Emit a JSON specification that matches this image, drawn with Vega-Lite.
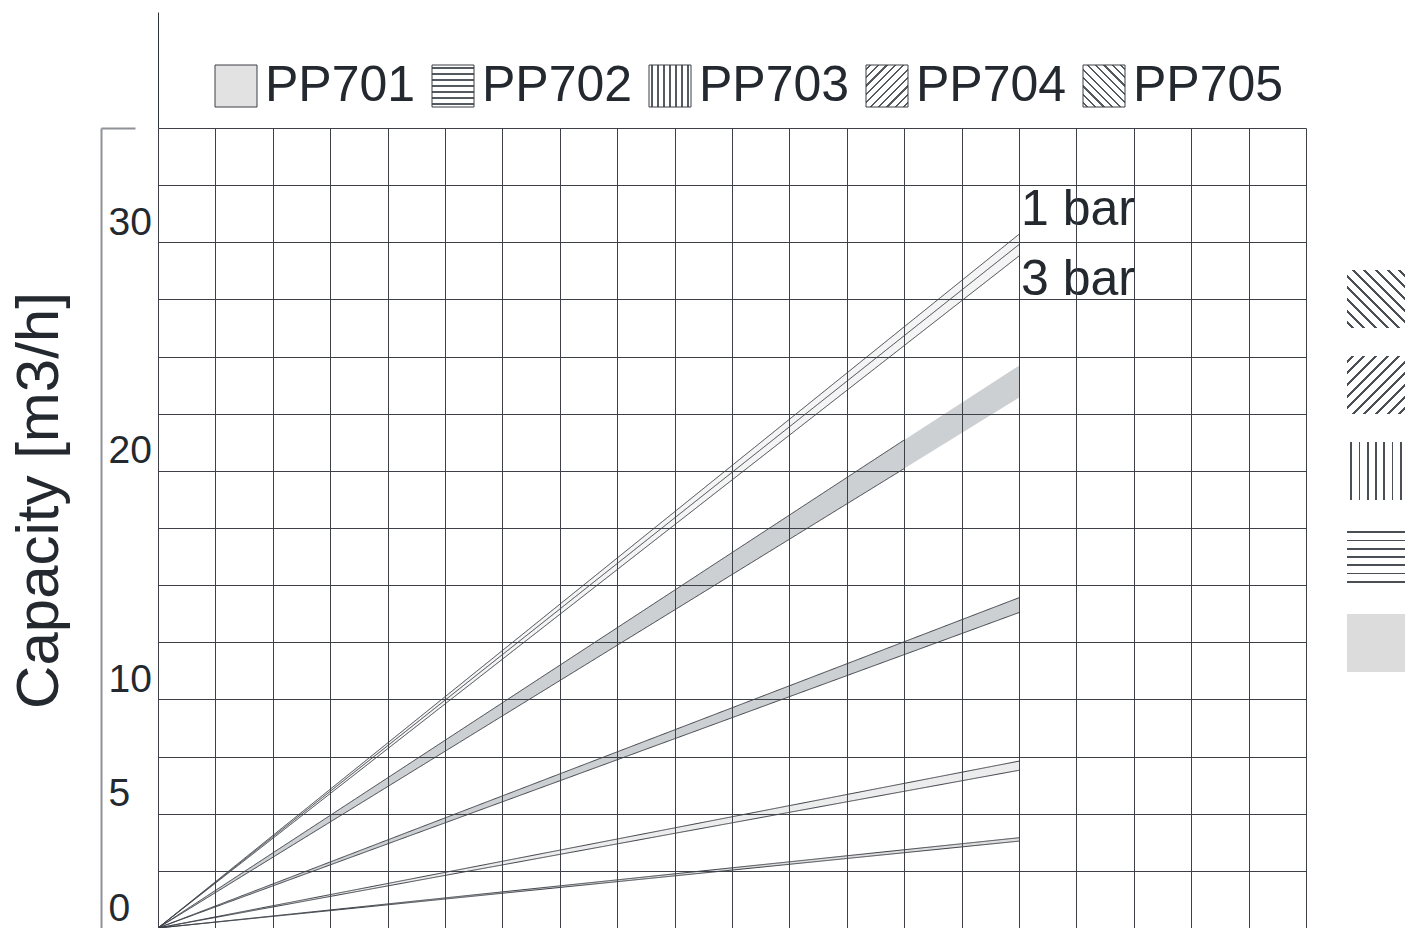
{
  "$schema": "https://vega.github.io/schema/vega-lite/v6.json",
  "width": 1148,
  "height": 800,
  "autosize": "none",
  "padding": {"left": 158, "top": 128, "right": 107, "bottom": 0},
  "background": "#ffffff",
  "config": {
    "font": "Liberation Sans",
    "view": {"stroke": null},
    "legend": {"padding": 0, "titlePadding": 0}
  },
  "datasets": {
    "bands": [
      {"series": "PP701", "x": 0, "lo": 0, "hi": 0, "mid": null},
      {"series": "PP701", "x": 15, "lo": 3.8, "hi": 3.95, "mid": null},
      {"series": "PP702", "x": 0, "lo": 0, "hi": 0, "mid": null},
      {"series": "PP702", "x": 15, "lo": 6.9, "hi": 7.3, "mid": null},
      {"series": "PP703", "x": 0, "lo": 0, "hi": 0, "mid": null},
      {"series": "PP703", "x": 15, "lo": 13.8, "hi": 14.45, "mid": null},
      {"series": "PP704", "x": 0, "lo": 0, "hi": 0, "mid": 0},
      {"series": "PP704", "x": 15, "lo": 29.4, "hi": 30.35, "mid": 29.9},
      {"series": "PP705", "x": 0, "lo": 0, "hi": 0, "mid": null},
      {"series": "PP705", "x": 13, "lo": 20.1, "hi": 21.35, "mid": null},
      {"series": "PP705", "x": 15, "lo": 23.2, "hi": 24.6, "mid": null}
    ],
    "notes": [
      {"label": "1 bar", "x": 15, "y": 30.75},
      {"label": "3 bar", "x": 15, "y": 27.7}
    ]
  },
  "layer": [
    {
      "data": {"name": "bands"},
      "mark": {"type": "area", "opacity": 1, "strokeWidth": 0},
      "encoding": {
        "x": {
          "field": "x", "type": "quantitative",
          "scale": {"domain": [0, 20], "nice": false, "zero": false},
          "axis": {
            "orient": "top", "values": [0,1,2,3,4,5,6,7,8,9,10,11,12,13,14,15,16,17,18,19,20],
            "grid": true, "gridColor": "#3d4147", "gridWidth": 1, "gridOpacity": 1,
            "domain": false, "labels": false, "ticks": true, "tickSize": 116,
            "tickColor": "#2e3239", "tickWidth": 1,
            "tickOpacity": {"condition": {"test": "datum.value === 0", "value": 1}, "value": 0},
            "title": null, "zindex": 1
          }
        },
        "y": {
          "field": "lo", "type": "quantitative",
          "scale": {"domain": [0, 35], "nice": false},
          "axis": {
            "orient": "left", "values": [0,2.5,5,7.5,10,12.5,15,17.5,20,22.5,25,27.5,30,32.5,35],
            "grid": true, "gridColor": "#3d4147", "gridWidth": 1, "gridOpacity": 1,
            "domain": false, "ticks": false,
            "labelExpr": "indexof([0,5,10,20,30], datum.value) >= 0 ? datum.label : ''",
            "labelAlign": "left", "labelBaseline": "alphabetic", "labelOffset": -8,
            "labelPadding": 50, "labelFontSize": 39, "labelColor": "#23292f",
            "labelFont": "Liberation Sans", "labelOverlap": false,
            "title": null, "zindex": 1
          }
        },
        "y2": {"field": "hi"},
        "fill": {
          "field": "series", "type": "nominal",
          "scale": {"domain": ["PP702","PP701","PP703","PP704","PP705"], "range": ["#ececec","#dddddd","#cdd0d3","#f4f4f4","#cdd0d3"]},
          "legend": null
        }
      }
    },
    {
      "data": {"name": "bands"},
      "transform": [
        {"filter": "datum.series !== 'PP705' || datum.x <= 13"},
        {"fold": ["lo", "hi", "mid"], "as": ["edge", "v"]},
        {"filter": "isValid(datum.v)"}
      ],
      "mark": {"type": "line", "strokeWidth": 1},
      "encoding": {
        "x": {"field": "x", "type": "quantitative"},
        "y": {
          "field": "v", "type": "quantitative",
          "axis": {
            "orient": "left", "offset": 57, "values": [35], "grid": false, "labels": false,
            "domain": true, "domainColor": "#8e9297", "domainWidth": 2,
            "ticks": true, "tickSize": -34, "tickColor": "#8e9297", "tickWidth": 2,
            "title": "Capacity [m3/h]", "titleFontSize": 60, "titleFontWeight": "normal",
            "titleColor": "#23292f", "titleFont": "Liberation Sans", "titlePadding": 30, "titleY": 372
          }
        },
        "strokeDash": {
          "field": "series", "type": "nominal",
          "scale": {"domain": ["PP705","PP704","PP703","PP702","PP701"], "range": [[1,0],[1,0],[1,0],[1,0],[1,0]]},
          "legend": {
            "orient": "none", "legendX": 1189, "legendY": 142, "direction": "vertical",
            "title": null, "symbolType": "square", "symbolSize": 3364, "symbolStrokeWidth": 0,
            "labelExpr": "''", "labelFontSize": 1, "labelOffset": 0, "rowPadding": 28,
            "encode": {"symbols": {"update": {"stroke": {"value": "transparent"}, "fillOpacity": {"value": 1}, "opacity": {"value": 1}, "fill": [
                {"test": "datum.value === 'PP702'", "value": {"gradient": "linear", "x1": 0, "y1": 0, "x2": 0, "y2": 1, "stops": [
                  {"offset":0,"color":"#ffffff"},
                  {"offset":0.056,"color":"#ffffff"},{"offset":0.056,"color":"#4a4f56"},{"offset":0.086,"color":"#4a4f56"},{"offset":0.086,"color":"#ffffff"},
                  {"offset":0.199,"color":"#ffffff"},{"offset":0.199,"color":"#4a4f56"},{"offset":0.229,"color":"#4a4f56"},{"offset":0.229,"color":"#ffffff"},
                  {"offset":0.342,"color":"#ffffff"},{"offset":0.342,"color":"#4a4f56"},{"offset":0.372,"color":"#4a4f56"},{"offset":0.372,"color":"#ffffff"},
                  {"offset":0.485,"color":"#ffffff"},{"offset":0.485,"color":"#4a4f56"},{"offset":0.515,"color":"#4a4f56"},{"offset":0.515,"color":"#ffffff"},
                  {"offset":0.628,"color":"#ffffff"},{"offset":0.628,"color":"#4a4f56"},{"offset":0.658,"color":"#4a4f56"},{"offset":0.658,"color":"#ffffff"},
                  {"offset":0.771,"color":"#ffffff"},{"offset":0.771,"color":"#4a4f56"},{"offset":0.801,"color":"#4a4f56"},{"offset":0.801,"color":"#ffffff"},
                  {"offset":0.914,"color":"#ffffff"},{"offset":0.914,"color":"#4a4f56"},{"offset":0.944,"color":"#4a4f56"},{"offset":0.944,"color":"#ffffff"},
                  {"offset":1,"color":"#ffffff"}]}},
                {"test": "datum.value === 'PP703'", "value": {"gradient": "linear", "x1": 0, "y1": 0, "x2": 1, "y2": 0, "stops": [
                  {"offset":0,"color":"#ffffff"},
                  {"offset":0.056,"color":"#ffffff"},{"offset":0.056,"color":"#4a4f56"},{"offset":0.086,"color":"#4a4f56"},{"offset":0.086,"color":"#ffffff"},
                  {"offset":0.199,"color":"#ffffff"},{"offset":0.199,"color":"#4a4f56"},{"offset":0.229,"color":"#4a4f56"},{"offset":0.229,"color":"#ffffff"},
                  {"offset":0.342,"color":"#ffffff"},{"offset":0.342,"color":"#4a4f56"},{"offset":0.372,"color":"#4a4f56"},{"offset":0.372,"color":"#ffffff"},
                  {"offset":0.485,"color":"#ffffff"},{"offset":0.485,"color":"#4a4f56"},{"offset":0.515,"color":"#4a4f56"},{"offset":0.515,"color":"#ffffff"},
                  {"offset":0.628,"color":"#ffffff"},{"offset":0.628,"color":"#4a4f56"},{"offset":0.658,"color":"#4a4f56"},{"offset":0.658,"color":"#ffffff"},
                  {"offset":0.771,"color":"#ffffff"},{"offset":0.771,"color":"#4a4f56"},{"offset":0.801,"color":"#4a4f56"},{"offset":0.801,"color":"#ffffff"},
                  {"offset":0.914,"color":"#ffffff"},{"offset":0.914,"color":"#4a4f56"},{"offset":0.944,"color":"#4a4f56"},{"offset":0.944,"color":"#ffffff"},
                  {"offset":1,"color":"#ffffff"}]}},
                {"test": "datum.value === 'PP704'", "value": {"gradient": "linear", "x1": 0, "y1": 0, "x2": 1, "y2": 1, "stops": [
                  {"offset":0,"color":"#ffffff"},
                  {"offset":0.0375,"color":"#ffffff"},{"offset":0.0375,"color":"#4a4f56"},{"offset":0.0625,"color":"#4a4f56"},{"offset":0.0625,"color":"#ffffff"},
                  {"offset":0.1375,"color":"#ffffff"},{"offset":0.1375,"color":"#4a4f56"},{"offset":0.1625,"color":"#4a4f56"},{"offset":0.1625,"color":"#ffffff"},
                  {"offset":0.2375,"color":"#ffffff"},{"offset":0.2375,"color":"#4a4f56"},{"offset":0.2625,"color":"#4a4f56"},{"offset":0.2625,"color":"#ffffff"},
                  {"offset":0.3375,"color":"#ffffff"},{"offset":0.3375,"color":"#4a4f56"},{"offset":0.3625,"color":"#4a4f56"},{"offset":0.3625,"color":"#ffffff"},
                  {"offset":0.4375,"color":"#ffffff"},{"offset":0.4375,"color":"#4a4f56"},{"offset":0.4625,"color":"#4a4f56"},{"offset":0.4625,"color":"#ffffff"},
                  {"offset":0.5375,"color":"#ffffff"},{"offset":0.5375,"color":"#4a4f56"},{"offset":0.5625,"color":"#4a4f56"},{"offset":0.5625,"color":"#ffffff"},
                  {"offset":0.6375,"color":"#ffffff"},{"offset":0.6375,"color":"#4a4f56"},{"offset":0.6625,"color":"#4a4f56"},{"offset":0.6625,"color":"#ffffff"},
                  {"offset":0.7375,"color":"#ffffff"},{"offset":0.7375,"color":"#4a4f56"},{"offset":0.7625,"color":"#4a4f56"},{"offset":0.7625,"color":"#ffffff"},
                  {"offset":0.8375,"color":"#ffffff"},{"offset":0.8375,"color":"#4a4f56"},{"offset":0.8625,"color":"#4a4f56"},{"offset":0.8625,"color":"#ffffff"},
                  {"offset":0.9375,"color":"#ffffff"},{"offset":0.9375,"color":"#4a4f56"},{"offset":0.9625,"color":"#4a4f56"},{"offset":0.9625,"color":"#ffffff"},
                  {"offset":1,"color":"#ffffff"}]}},
                {"test": "datum.value === 'PP705'", "value": {"gradient": "linear", "x1": 0, "y1": 1, "x2": 1, "y2": 0, "stops": [
                  {"offset":0,"color":"#ffffff"},
                  {"offset":0.0375,"color":"#ffffff"},{"offset":0.0375,"color":"#4a4f56"},{"offset":0.0625,"color":"#4a4f56"},{"offset":0.0625,"color":"#ffffff"},
                  {"offset":0.1375,"color":"#ffffff"},{"offset":0.1375,"color":"#4a4f56"},{"offset":0.1625,"color":"#4a4f56"},{"offset":0.1625,"color":"#ffffff"},
                  {"offset":0.2375,"color":"#ffffff"},{"offset":0.2375,"color":"#4a4f56"},{"offset":0.2625,"color":"#4a4f56"},{"offset":0.2625,"color":"#ffffff"},
                  {"offset":0.3375,"color":"#ffffff"},{"offset":0.3375,"color":"#4a4f56"},{"offset":0.3625,"color":"#4a4f56"},{"offset":0.3625,"color":"#ffffff"},
                  {"offset":0.4375,"color":"#ffffff"},{"offset":0.4375,"color":"#4a4f56"},{"offset":0.4625,"color":"#4a4f56"},{"offset":0.4625,"color":"#ffffff"},
                  {"offset":0.5375,"color":"#ffffff"},{"offset":0.5375,"color":"#4a4f56"},{"offset":0.5625,"color":"#4a4f56"},{"offset":0.5625,"color":"#ffffff"},
                  {"offset":0.6375,"color":"#ffffff"},{"offset":0.6375,"color":"#4a4f56"},{"offset":0.6625,"color":"#4a4f56"},{"offset":0.6625,"color":"#ffffff"},
                  {"offset":0.7375,"color":"#ffffff"},{"offset":0.7375,"color":"#4a4f56"},{"offset":0.7625,"color":"#4a4f56"},{"offset":0.7625,"color":"#ffffff"},
                  {"offset":0.8375,"color":"#ffffff"},{"offset":0.8375,"color":"#4a4f56"},{"offset":0.8625,"color":"#4a4f56"},{"offset":0.8625,"color":"#ffffff"},
                  {"offset":0.9375,"color":"#ffffff"},{"offset":0.9375,"color":"#4a4f56"},{"offset":0.9625,"color":"#4a4f56"},{"offset":0.9625,"color":"#ffffff"},
                  {"offset":1,"color":"#ffffff"}]}},
                {"value": "#dcdcdc"}
            ]}}}
          }
        },
        "stroke": {
          "field": "series", "type": "nominal",
          "scale": {"domain": ["PP701","PP702","PP703","PP704","PP705"], "range": ["#3b3f46","#3b3f46","#3b3f46","#3b3f46","#3b3f46"]},
          "legend": {
            "orient": "none", "legendX": 53, "legendY": -67, "direction": "horizontal",
            "title": null, "symbolType": "square", "symbolSize": 1764, "symbolStrokeWidth": 1,
            "labelFontSize": 50, "labelFont": "Liberation Sans", "labelColor": "#23292f",
            "labelOffset": 4, "columnPadding": 12, "labelLimit": 0,
            "encode": {"symbols": {"update": {"fill": [
                {"test": "datum.value === 'PP702'", "value": {"gradient": "linear", "x1": 0, "y1": 0, "x2": 0, "y2": 1, "stops": [
                  {"offset":0,"color":"#ffffff"},
                  {"offset":0.056,"color":"#ffffff"},{"offset":0.056,"color":"#555a61"},{"offset":0.086,"color":"#555a61"},{"offset":0.086,"color":"#ffffff"},
                  {"offset":0.199,"color":"#ffffff"},{"offset":0.199,"color":"#555a61"},{"offset":0.229,"color":"#555a61"},{"offset":0.229,"color":"#ffffff"},
                  {"offset":0.342,"color":"#ffffff"},{"offset":0.342,"color":"#555a61"},{"offset":0.372,"color":"#555a61"},{"offset":0.372,"color":"#ffffff"},
                  {"offset":0.485,"color":"#ffffff"},{"offset":0.485,"color":"#555a61"},{"offset":0.515,"color":"#555a61"},{"offset":0.515,"color":"#ffffff"},
                  {"offset":0.628,"color":"#ffffff"},{"offset":0.628,"color":"#555a61"},{"offset":0.658,"color":"#555a61"},{"offset":0.658,"color":"#ffffff"},
                  {"offset":0.771,"color":"#ffffff"},{"offset":0.771,"color":"#555a61"},{"offset":0.801,"color":"#555a61"},{"offset":0.801,"color":"#ffffff"},
                  {"offset":0.914,"color":"#ffffff"},{"offset":0.914,"color":"#555a61"},{"offset":0.944,"color":"#555a61"},{"offset":0.944,"color":"#ffffff"},
                  {"offset":1,"color":"#ffffff"}]}},
                {"test": "datum.value === 'PP703'", "value": {"gradient": "linear", "x1": 0, "y1": 0, "x2": 1, "y2": 0, "stops": [
                  {"offset":0,"color":"#ffffff"},
                  {"offset":0.056,"color":"#ffffff"},{"offset":0.056,"color":"#555a61"},{"offset":0.086,"color":"#555a61"},{"offset":0.086,"color":"#ffffff"},
                  {"offset":0.199,"color":"#ffffff"},{"offset":0.199,"color":"#555a61"},{"offset":0.229,"color":"#555a61"},{"offset":0.229,"color":"#ffffff"},
                  {"offset":0.342,"color":"#ffffff"},{"offset":0.342,"color":"#555a61"},{"offset":0.372,"color":"#555a61"},{"offset":0.372,"color":"#ffffff"},
                  {"offset":0.485,"color":"#ffffff"},{"offset":0.485,"color":"#555a61"},{"offset":0.515,"color":"#555a61"},{"offset":0.515,"color":"#ffffff"},
                  {"offset":0.628,"color":"#ffffff"},{"offset":0.628,"color":"#555a61"},{"offset":0.658,"color":"#555a61"},{"offset":0.658,"color":"#ffffff"},
                  {"offset":0.771,"color":"#ffffff"},{"offset":0.771,"color":"#555a61"},{"offset":0.801,"color":"#555a61"},{"offset":0.801,"color":"#ffffff"},
                  {"offset":0.914,"color":"#ffffff"},{"offset":0.914,"color":"#555a61"},{"offset":0.944,"color":"#555a61"},{"offset":0.944,"color":"#ffffff"},
                  {"offset":1,"color":"#ffffff"}]}},
                {"test": "datum.value === 'PP704'", "value": {"gradient": "linear", "x1": 0, "y1": 0, "x2": 1, "y2": 1, "stops": [
                  {"offset":0,"color":"#ffffff"},
                  {"offset":0.0375,"color":"#ffffff"},{"offset":0.0375,"color":"#555a61"},{"offset":0.0625,"color":"#555a61"},{"offset":0.0625,"color":"#ffffff"},
                  {"offset":0.1375,"color":"#ffffff"},{"offset":0.1375,"color":"#555a61"},{"offset":0.1625,"color":"#555a61"},{"offset":0.1625,"color":"#ffffff"},
                  {"offset":0.2375,"color":"#ffffff"},{"offset":0.2375,"color":"#555a61"},{"offset":0.2625,"color":"#555a61"},{"offset":0.2625,"color":"#ffffff"},
                  {"offset":0.3375,"color":"#ffffff"},{"offset":0.3375,"color":"#555a61"},{"offset":0.3625,"color":"#555a61"},{"offset":0.3625,"color":"#ffffff"},
                  {"offset":0.4375,"color":"#ffffff"},{"offset":0.4375,"color":"#555a61"},{"offset":0.4625,"color":"#555a61"},{"offset":0.4625,"color":"#ffffff"},
                  {"offset":0.5375,"color":"#ffffff"},{"offset":0.5375,"color":"#555a61"},{"offset":0.5625,"color":"#555a61"},{"offset":0.5625,"color":"#ffffff"},
                  {"offset":0.6375,"color":"#ffffff"},{"offset":0.6375,"color":"#555a61"},{"offset":0.6625,"color":"#555a61"},{"offset":0.6625,"color":"#ffffff"},
                  {"offset":0.7375,"color":"#ffffff"},{"offset":0.7375,"color":"#555a61"},{"offset":0.7625,"color":"#555a61"},{"offset":0.7625,"color":"#ffffff"},
                  {"offset":0.8375,"color":"#ffffff"},{"offset":0.8375,"color":"#555a61"},{"offset":0.8625,"color":"#555a61"},{"offset":0.8625,"color":"#ffffff"},
                  {"offset":0.9375,"color":"#ffffff"},{"offset":0.9375,"color":"#555a61"},{"offset":0.9625,"color":"#555a61"},{"offset":0.9625,"color":"#ffffff"},
                  {"offset":1,"color":"#ffffff"}]}},
                {"test": "datum.value === 'PP705'", "value": {"gradient": "linear", "x1": 0, "y1": 1, "x2": 1, "y2": 0, "stops": [
                  {"offset":0,"color":"#ffffff"},
                  {"offset":0.0375,"color":"#ffffff"},{"offset":0.0375,"color":"#555a61"},{"offset":0.0625,"color":"#555a61"},{"offset":0.0625,"color":"#ffffff"},
                  {"offset":0.1375,"color":"#ffffff"},{"offset":0.1375,"color":"#555a61"},{"offset":0.1625,"color":"#555a61"},{"offset":0.1625,"color":"#ffffff"},
                  {"offset":0.2375,"color":"#ffffff"},{"offset":0.2375,"color":"#555a61"},{"offset":0.2625,"color":"#555a61"},{"offset":0.2625,"color":"#ffffff"},
                  {"offset":0.3375,"color":"#ffffff"},{"offset":0.3375,"color":"#555a61"},{"offset":0.3625,"color":"#555a61"},{"offset":0.3625,"color":"#ffffff"},
                  {"offset":0.4375,"color":"#ffffff"},{"offset":0.4375,"color":"#555a61"},{"offset":0.4625,"color":"#555a61"},{"offset":0.4625,"color":"#ffffff"},
                  {"offset":0.5375,"color":"#ffffff"},{"offset":0.5375,"color":"#555a61"},{"offset":0.5625,"color":"#555a61"},{"offset":0.5625,"color":"#ffffff"},
                  {"offset":0.6375,"color":"#ffffff"},{"offset":0.6375,"color":"#555a61"},{"offset":0.6625,"color":"#555a61"},{"offset":0.6625,"color":"#ffffff"},
                  {"offset":0.7375,"color":"#ffffff"},{"offset":0.7375,"color":"#555a61"},{"offset":0.7625,"color":"#555a61"},{"offset":0.7625,"color":"#ffffff"},
                  {"offset":0.8375,"color":"#ffffff"},{"offset":0.8375,"color":"#555a61"},{"offset":0.8625,"color":"#555a61"},{"offset":0.8625,"color":"#ffffff"},
                  {"offset":0.9375,"color":"#ffffff"},{"offset":0.9375,"color":"#555a61"},{"offset":0.9625,"color":"#555a61"},{"offset":0.9625,"color":"#ffffff"},
                  {"offset":1,"color":"#ffffff"}]}},
                {"value": "#e2e2e2"}
            ]}}}
          }
        },
        "detail": {"field": "edge", "type": "nominal"}
      }
    },
    {
      "data": {"name": "notes"},
      "mark": {"type": "text", "align": "left", "baseline": "alphabetic", "dx": 2, "fontSize": 50, "font": "Liberation Sans", "color": "#23292f"},
      "encoding": {
        "x": {"field": "x", "type": "quantitative"},
        "y": {"field": "y", "type": "quantitative", "axis": null},
        "text": {"field": "label"}
      }
    }
  ],
  "resolve": {"axis": {"y": "independent"}}
}
